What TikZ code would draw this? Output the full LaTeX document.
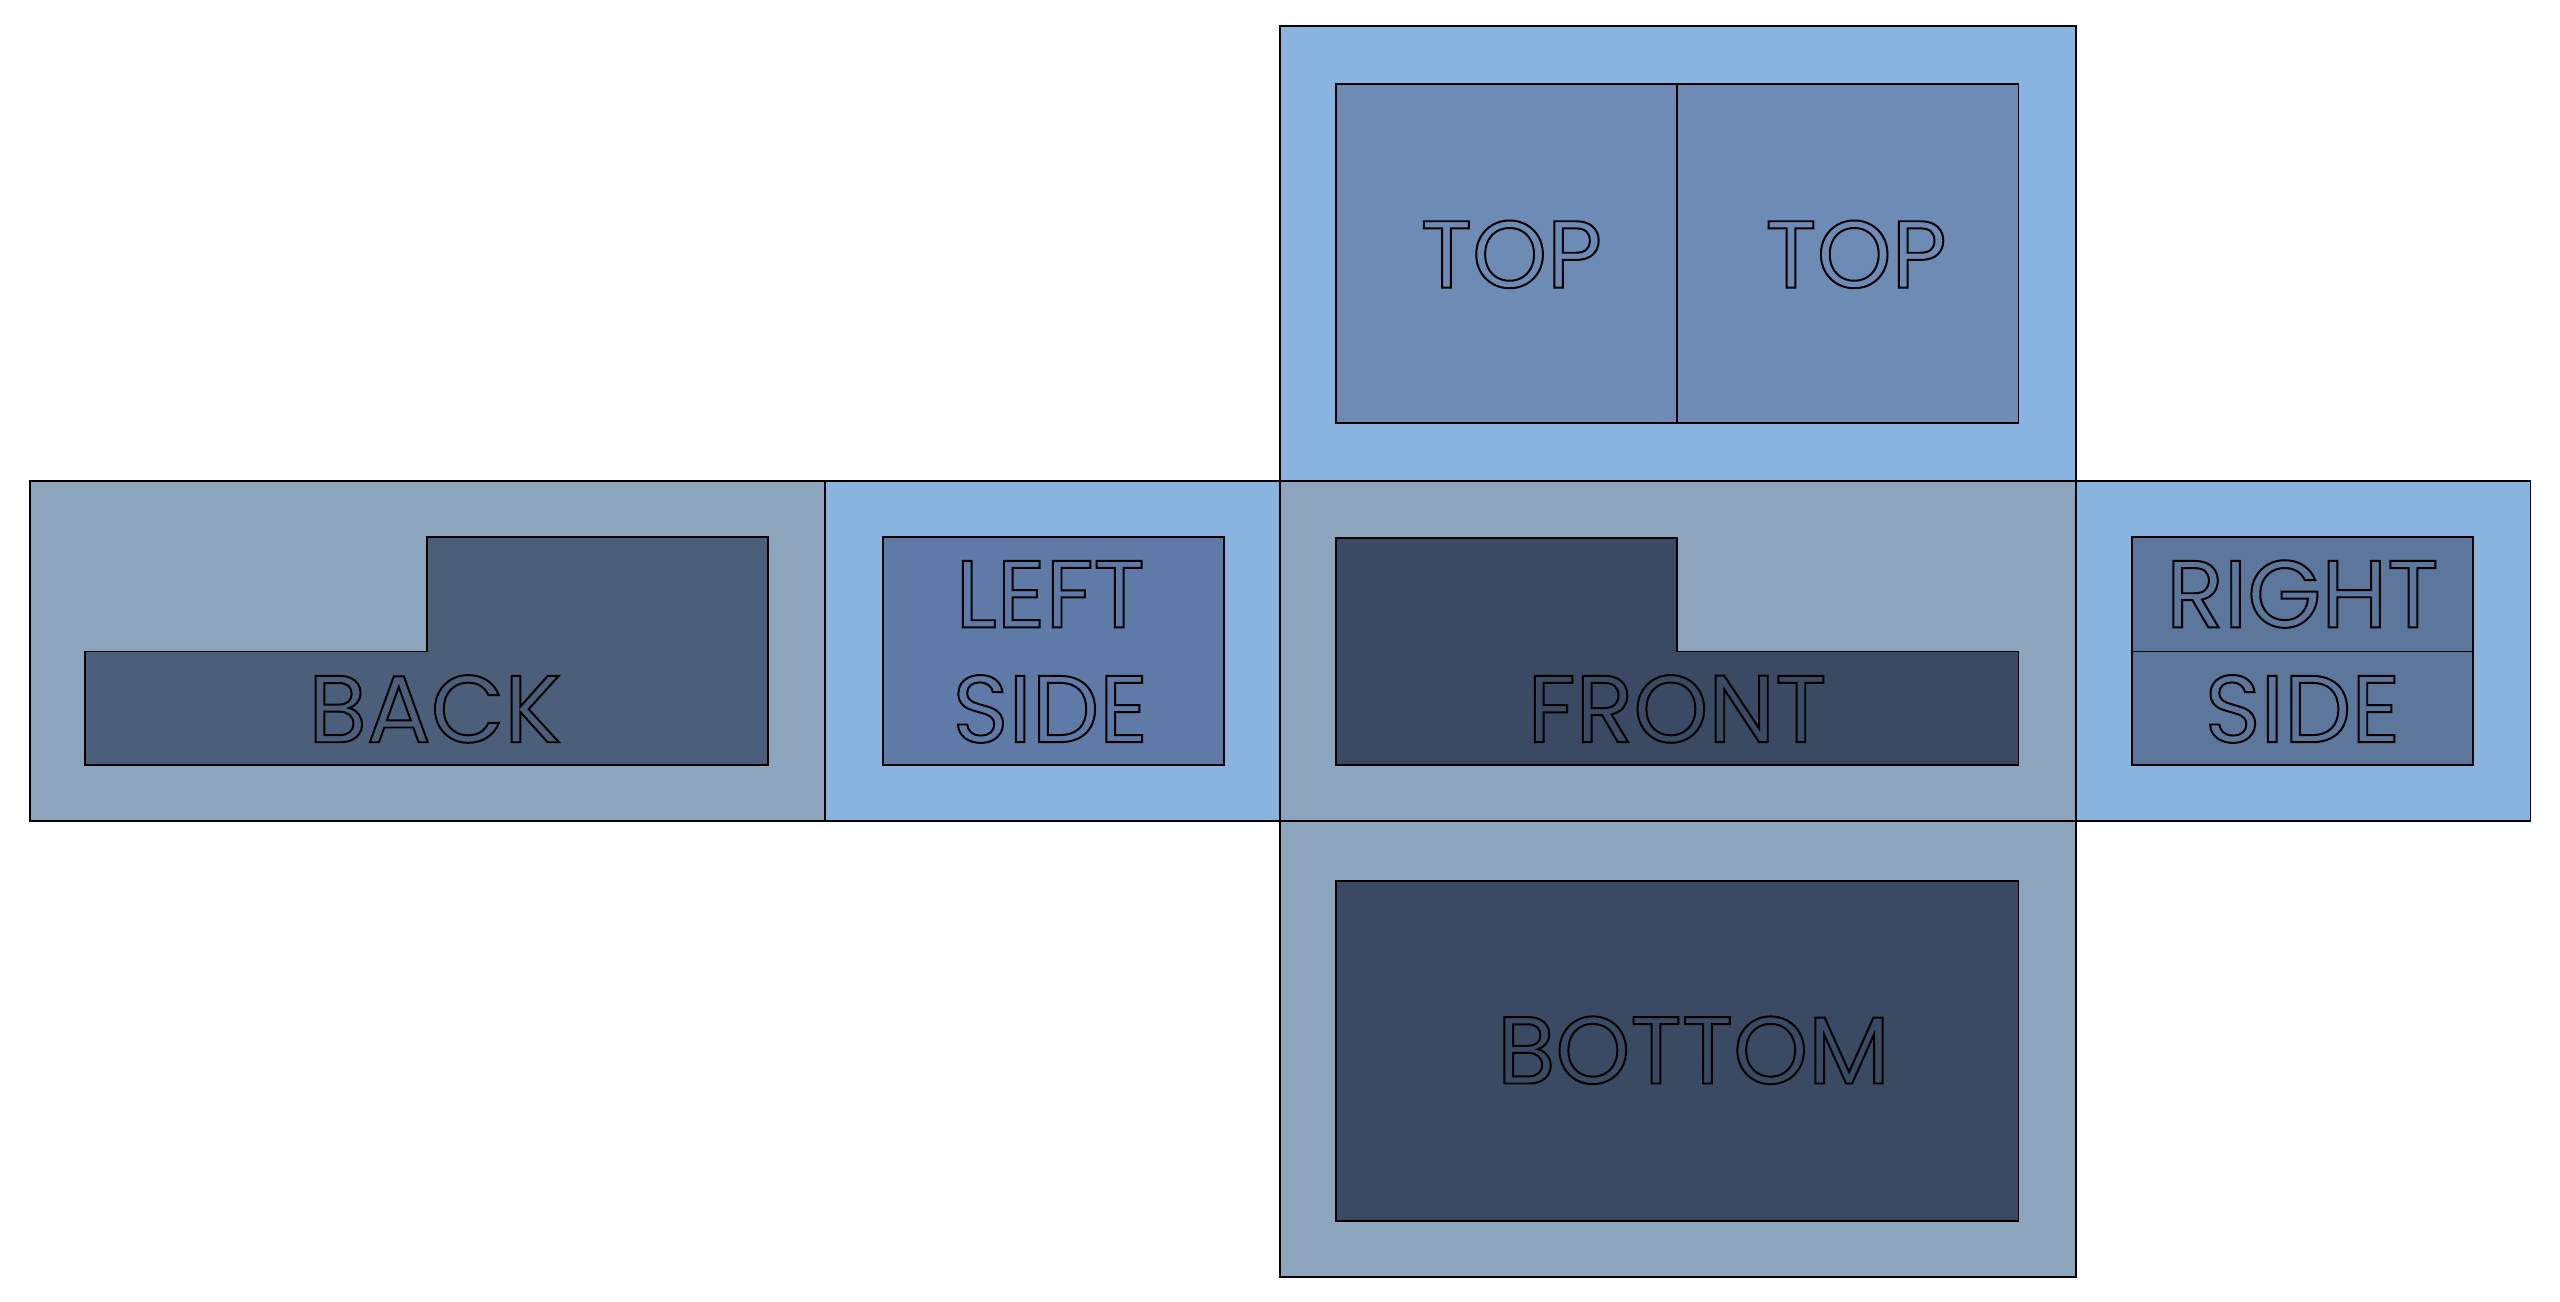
\documentclass[tikz,border=0pt]{standalone}
\usepackage{fontspec}
\setmainfont{Poppins}
\newcommand\outl[1]{\special{pdf:literal direct q 1 Tr 1.2 w 0 0 0 RG}#1\special{pdf:literal direct Q}}
\definecolor{lb}{HTML}{8AB4E0}
\definecolor{gb}{HTML}{8CA5BC}
\definecolor{itop}{HTML}{6E8BB5}
\definecolor{iback}{HTML}{4B5F7B}
\definecolor{ileft}{HTML}{5F7AA6}
\definecolor{ifront}{HTML}{3A4A62}
\definecolor{iright}{HTML}{5D769C}
\tikzset{panel/.style={draw=black,line width=1.2pt},
 lab/.style={font=\fontsize{58}{58}\selectfont,inner sep=0pt}}
\begin{document}
\begin{tikzpicture}[x=1pt,y=-1pt]
\useasboundingbox (0,0) rectangle (1560,793);
\fill[white] (0,0) rectangle (1560,793);
% outer panels
\draw[panel,fill=lb] (780,16) rectangle (1265,293);
\draw[panel,fill=gb] (18,293) rectangle (503,500);
\draw[panel,fill=lb] (503,293) rectangle (780,500);
\draw[panel,fill=gb] (780,293) rectangle (1265,500);
\draw[panel,fill=lb] (1265,293) rectangle (1542,500);
\draw[panel,fill=gb] (780,500) rectangle (1265,778);
% inner
\draw[panel,fill=itop] (814,51) rectangle (1022,258);
\draw[panel,fill=itop] (1022,51) rectangle (1230,258);
\draw[panel,fill=iback] (52,397) -- (260,397) -- (260,327) -- (468,327) -- (468,466) -- (52,466) -- cycle;
\draw[panel,fill=ileft] (538,327) rectangle (746,466);
\draw[panel,fill=ifront] (814,328) -- (1022,328) -- (1022,397) -- (1230,397) -- (1230,466) -- (814,466) -- cycle;
\draw[panel,fill=iright] (1299,327) rectangle (1507,397);
\draw[panel,fill=iright] (1299,397) rectangle (1507,466);
\draw[panel,fill=ifront] (814,537) rectangle (1230,744);
% labels
\node[lab] (t1) at (921,155) {\outl{TOP}};
\node[lab] (t2) at (1131,155) {\outl{TOP}};
\node[lab] (bk) at (265,432) {\outl{BACK}};
\node[lab] (l1) at (640,362) {\outl{LEFT}};
\node[lab] (l2) at (640,432) {\outl{SIDE}};
\node[lab] (fr) at (1022,432) {\outl{FRONT}};
\node[lab] (r1) at (1403,362) {\outl{RIGHT}};
\node[lab] (r2) at (1403,432) {\outl{SIDE}};
\node[lab] (bt) at (1032,640) {\outl{BOTTOM}};
\end{tikzpicture}
\end{document}
